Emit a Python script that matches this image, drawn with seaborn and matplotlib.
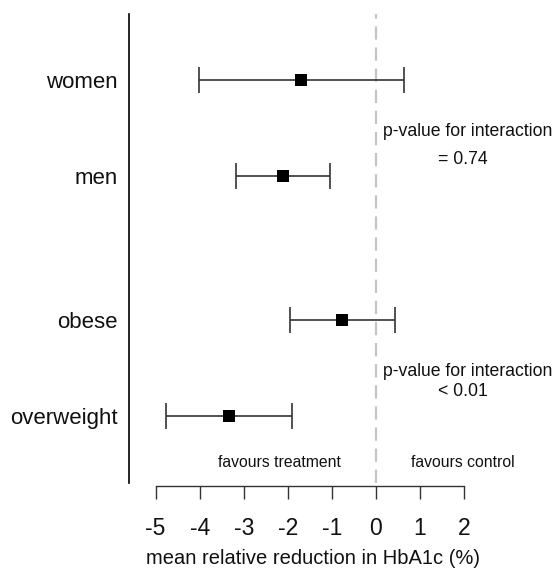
import pandas as pd
import seaborn as sns
from matplotlib import pyplot as plt

groups = ["women", "men", "obese", "overweight"]
estimate = [-1.70, -2.12, -0.76, -3.33]
ci_low = [-4.01, -3.18, -1.95, -4.76]
ci_high = [0.64, -1.04, 0.42, -1.91]
ticks = [-5, -4, -3, -2, -1, 0, 1, 2]
pvals = ["= 0.74", "< 0.01"]

# rows: two pairs with a gap between them
row_pos = [0, 1, 2.5, 3.5]

df = pd.DataFrame({"group": groups, "est": estimate, "lo": ci_low,
                   "hi": ci_high, "row": row_pos})

sns.set_style("white")
plt.rcParams['font.family'] = ['Liberation Sans', 'DejaVu Sans']
plt.rcParams['text.color'] = '#111111'
plt.rcParams['axes.labelcolor'] = '#111111'
plt.rcParams['xtick.color'] = '#111111'
plt.rcParams['ytick.color'] = '#111111'

fig = plt.figure(figsize=(5.56, 5.70), dpi=100)
# axes box in pixels: left 129, right 556, top 14, bottom 483
ax = fig.add_axes([129/556, 1 - 483/570, (556 - 129)/556, (483 - 14)/570])

ax.axvline(0, color='#c4c4c4', lw=1.6, ls=(0, (6, 3.5)), zorder=1)

ax.errorbar(df['est'], df['row'],
            xerr=[df['est'] - df['lo'], df['hi'] - df['est']],
            fmt='none', ecolor='#333333', elinewidth=1.2, capsize=9.5,
            capthick=1.2, zorder=2)
sns.scatterplot(data=df, x='est', y='row', marker='s', color='black',
                s=75, edgecolor='black', linewidth=0, ax=ax, zorder=3)

ax.set_xlim((129 - 376)/44.09, (556 - 376)/44.09)
ax.set_ylim((483 - 80)/96, (14 - 80)/96)

for s in ['top', 'right']:
    ax.spines[s].set_visible(False)
ax.spines['left'].set_color('black')
ax.spines['left'].set_linewidth(1.2)
ax.spines['bottom'].set_position(('outward', 2))
ax.spines['bottom'].set_bounds(-5, 2)
ax.spines['bottom'].set_color('#333333')
ax.spines['bottom'].set_linewidth(1.0)

ax.set_yticks(row_pos)
ax.set_yticklabels(groups)
ax.tick_params(axis='y', length=0, pad=8, labelsize=16)

ax.set_xticks(ticks)
ax.set_xticklabels([str(t) for t in ticks])
ax.tick_params(axis='x', length=9.4, width=1.0, color='#333333',
               direction='out', pad=13, bottom=True, labelsize=16.5)

ax.set_xlabel("mean relative reduction in HbA1c (%)", fontsize=14.5)
ax.xaxis.label.set_va('center')
ax.xaxis.set_label_coords((312.5 - 129)/427, -(559 - 483)/469)
ax.set_ylabel("")

ax.text(0.16, 0.54, "p-value for interaction", fontsize=12.7, va='center', ha='left')
ax.text(1.97, 0.83, pvals[0], fontsize=12.7, va='center', ha='center')
ax.text(0.16, 3.04, "p-value for interaction", fontsize=12.7, va='center', ha='left')
ax.text(1.97, 3.25, pvals[1], fontsize=12.7, va='center', ha='center')

ax.text(-2.2, 3.98, "favours treatment", fontsize=11.3, va='center', ha='center')
ax.text(1.97, 3.98, "favours control", fontsize=11.3, va='center', ha='center')

plt.savefig('out.png', dpi=100)
